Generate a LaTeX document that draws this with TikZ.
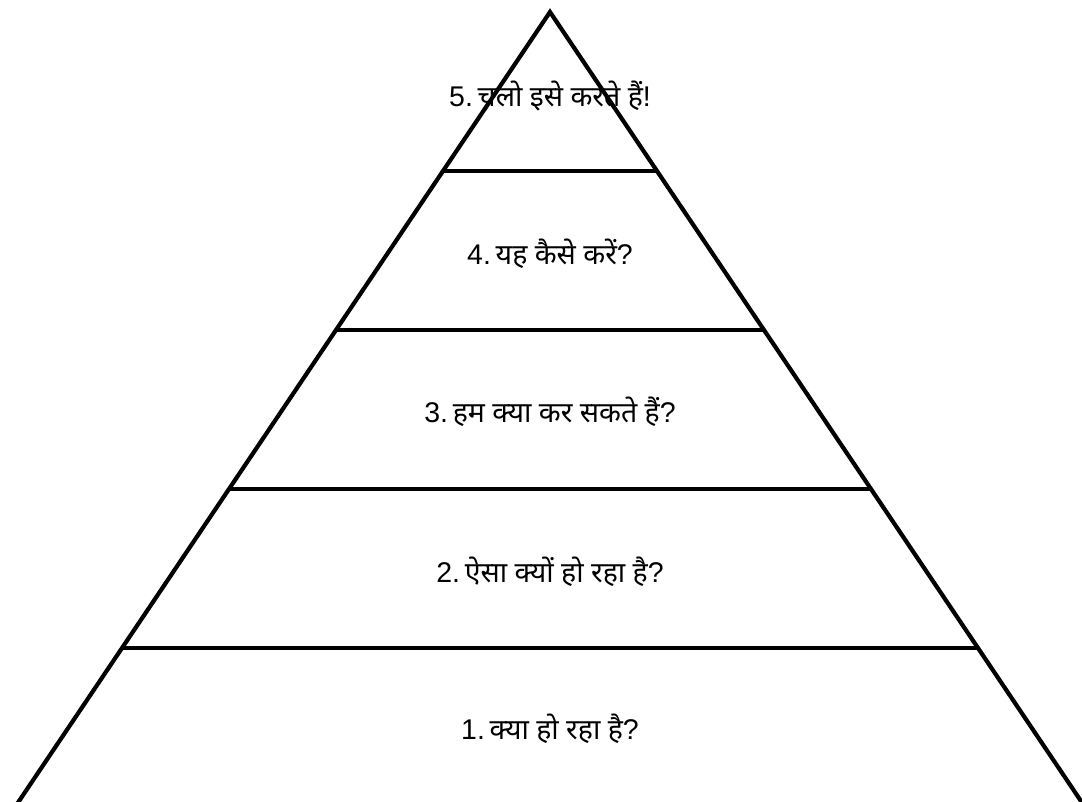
\documentclass[tikz,border=0pt]{standalone}
\usepackage{fontspec}
\setmainfont{Liberation Sans}
\newfontfamily\dev[Script=Devanagari]{Noto Sans}
\begin{document}
\begin{tikzpicture}[x=1pt,y=-1pt,
  edge/.style={line width=4.2pt,black},
  lbl/.style={font=\fontsize{28.5}{32}\selectfont, inner sep=0pt, anchor=center}]
\useasboundingbox (0,0) rectangle (1082,802);
\clip (0,0) rectangle (1082,802);
\coordinate (apex) at (550,12);
\coordinate (bl) at (550-531.6*1.03,802+0.03*790);
\coordinate (br) at (550+531.6*1.03,802+0.03*790);
\draw[edge,line join=miter] (bl) -- (apex) -- (br);
\foreach \y/\h in {171/107,330/214,489/321,648/428}{
  \draw[edge] (550-\h,\y) -- (550+\h,\y);
}
\node[lbl] (t5) at (550,96) {5.\,{\dev चलो इसे करते हैं}!};
\node[lbl] (t4) at (550,254) {4.\,{\dev यह कैसे करें}?};
\node[lbl] (t3) at (550,412) {3.\,{\dev हम क्या कर सकते हैं}?};
\node[lbl] (t2) at (550,572) {2.\,{\dev ऐसा क्यों हो रहा है}?};
\node[lbl] (t1) at (550,729) {1.\,{\dev क्या हो रहा है}?};
\end{tikzpicture}
\end{document}
